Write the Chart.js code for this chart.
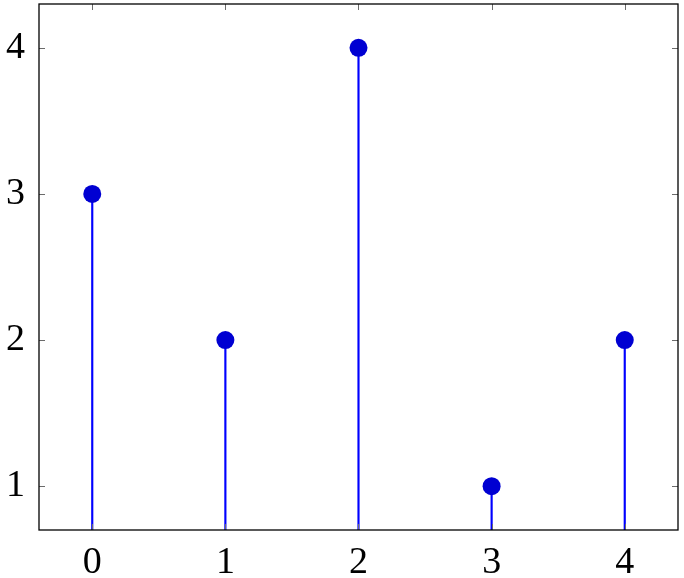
<!DOCTYPE html>
<html>
<head>
<meta charset="utf-8">
<script src="https://cdn.jsdelivr.net/npm/chart.js@4/dist/chart.umd.min.js"></script>
<style>
  html, body { margin: 0; padding: 0; background: #fff; }
  #wrap { width: 684px; height: 578px; }
</style>
</head>
<body>
<div id="wrap"><canvas id="chart"></canvas></div>
<script>
const xValues = [0, 1, 2, 3, 4];
const yValues = [3, 2, 4, 1, 2];
const xTicks = [0, 1, 2, 3, 4];
const yTicks = [1, 2, 3, 4];

const points = xValues.map((x, i) => ({ x: x, y: yValues[i] }));

// pgfplots-style inward ticks on all four sides plus the box
const axisBox = {
    id: 'axisBox',
    afterDatasetsDraw(chart) {
        const { ctx, chartArea: a, scales } = chart;
        ctx.save();
        ctx.strokeStyle = '#6b6b6b';
        ctx.lineWidth = 1;
        scales.x.ticks.forEach(t => {
            const px = Math.round(scales.x.getPixelForValue(t.value)) + 0.5;
            ctx.beginPath();
            ctx.moveTo(px, a.bottom); ctx.lineTo(px, a.bottom - 6);
            ctx.moveTo(px, a.top); ctx.lineTo(px, a.top + 6);
            ctx.stroke();
        });
        scales.y.ticks.forEach(t => {
            const py = Math.round(scales.y.getPixelForValue(t.value)) + 0.5;
            ctx.beginPath();
            ctx.moveTo(a.left, py); ctx.lineTo(a.left + 6, py);
            ctx.moveTo(a.right, py); ctx.lineTo(a.right - 6, py);
            ctx.stroke();
        });
        ctx.strokeStyle = '#000';
        ctx.lineWidth = 1.3;
        ctx.strokeRect(a.left, a.top, a.right - a.left, a.bottom - a.top);
        ctx.restore();
    }
};

new Chart(document.getElementById('chart'), {
    type: 'bar',
    data: {
        datasets: [{
            type: 'scatter',
            data: points,
            pointRadius: 9,
            pointHoverRadius: 9,
            pointBackgroundColor: 'rgb(0,0,210)',
            pointBorderWidth: 0,
            order: 0
        }, {
            type: 'bar',
            data: points,
            backgroundColor: 'rgb(0,0,255)',
            barThickness: 1.5,
            order: 1
        }]
    },
    options: {
        responsive: true,
        maintainAspectRatio: false,
        animation: false,
        events: [],
        layout: { autoPadding: false, padding: { top: 4, right: 6, left: 0, bottom: 0 } },
        plugins: { legend: { display: false }, tooltip: { enabled: false } },
        scales: {
            x: {
                type: 'linear',
                min: -0.4,
                max: 4.4,
                offset: false,
                afterBuildTicks: s => { s.ticks = xTicks.map(v => ({ value: v })); },
                afterFit: s => { s.height = 48; s.paddingLeft = 0; s.paddingRight = 0; },
                grid: { display: false, drawTicks: false },
                border: { display: false },
                ticks: {
                    padding: 10,
                    color: '#000',
                    maxRotation: 0,
                    font: { family: 'Liberation Serif', size: 38 }
                }
            },
            y: {
                type: 'linear',
                min: 0.7,
                max: 4.3,
                afterBuildTicks: s => { s.ticks = yTicks.map(v => ({ value: v })); },
                afterFit: s => { s.width = 39; s.paddingTop = 0; s.paddingBottom = 0; },
                grid: { display: false, drawTicks: false },
                border: { display: false },
                ticks: {
                    padding: 14,
                    color: '#000',
                    font: { family: 'Liberation Serif', size: 38 }
                }
            }
        }
    },
    plugins: [axisBox]
});
</script>
</body>
</html>
